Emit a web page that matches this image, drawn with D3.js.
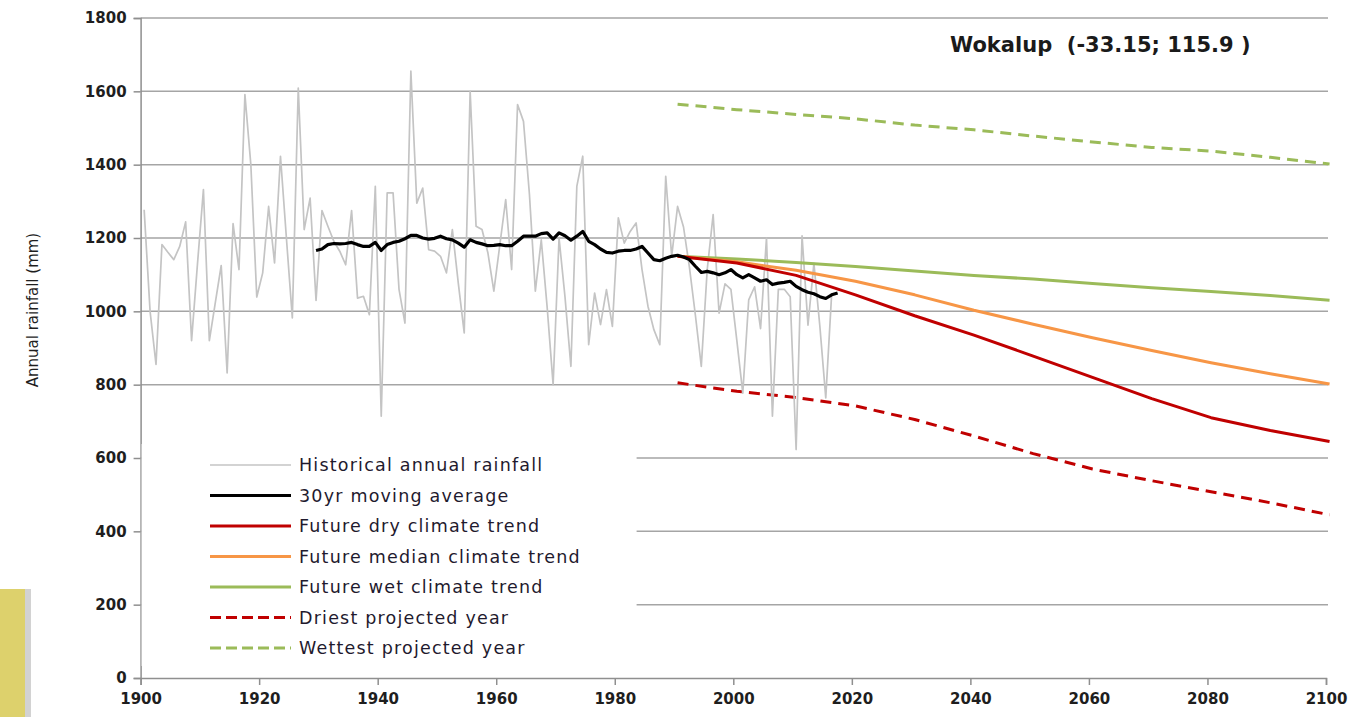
<!DOCTYPE html>
<html>
<head>
<meta charset="utf-8">
<script src="https://cdn.jsdelivr.net/npm/d3@7/dist/d3.min.js"></script>
<style>
  body { margin: 0; background: #fff; }
  svg text { font-family: "DejaVu Sans", sans-serif; }
</style>
</head>
<body>
<div id="chart"></div>
<script>
// ---- data ----
const stationTitle = "Wokalup  (-33.15; 115.9 )";
const yAxisLabel = "Annual rainfall (mm)";

// historical annual rainfall, one value per year starting 1900
const histStart = 1900;
const histRain = [
  1277, 1000, 855, 1182, 1161, 1141, 1177, 1244, 920, 1130,
  1332, 920, 1023, 1125, 832, 1239, 1114, 1591, 1400, 1039,
  1105, 1286, 1132, 1423, 1200, 982, 1609, 1223, 1309, 1030,
  1275, 1232, 1191, 1164, 1127, 1275, 1036, 1041, 991, 1341,
  714, 1323, 1323, 1060, 968, 1655, 1295, 1336, 1168, 1164,
  1150, 1105, 1223, 1077, 941, 1600, 1232, 1223, 1159, 1055,
  1180, 1305, 1114, 1564, 1518, 1320, 1055, 1195, 1010, 800,
  1200, 1040, 850, 1341, 1423, 909, 1050, 964, 1059, 959,
  1255, 1186, 1218, 1241, 1114, 1014, 950, 909, 1368, 1150,
  1286, 1230, 1120, 990, 850, 1114, 1264, 995, 1075, 1060,
  920, 777, 1031, 1067, 953, 1200, 714, 1060, 1060, 1040,
  623, 1206, 962, 1131, 960, 764, 1049
];

// 30 year moving average, one value per year starting 1929
const avgStart = 1929;
const movingAvg = [
  1166, 1170, 1182, 1185, 1184, 1185, 1188, 1182, 1177, 1177,
  1188, 1166, 1182, 1188, 1191, 1198, 1207, 1207, 1200, 1197,
  1199, 1205, 1198, 1195, 1186, 1175, 1195, 1188, 1184, 1179,
  1180, 1182, 1179, 1179, 1191, 1205, 1205, 1205, 1212, 1214,
  1197, 1214, 1206, 1194, 1205, 1218, 1191, 1182, 1170, 1161,
  1159, 1164, 1166, 1166, 1170, 1177, 1159, 1141, 1138, 1145,
  1150, 1153, 1148, 1141, 1123, 1106, 1109, 1105, 1100, 1105,
  1114, 1100, 1091, 1100, 1091, 1082, 1086, 1073, 1077, 1079,
  1082, 1068, 1059, 1052, 1048, 1040, 1035, 1045, 1050
];

// projections, read every ten years
const projYears = [1990, 2000, 2010, 2020, 2030, 2040, 2050, 2060, 2070, 2080, 2090, 2100];
const dryTrend    = [1150, 1132, 1098, 1045, 988, 935, 878, 820, 762, 710, 675, 645];
const medianTrend = [1150, 1135, 1112, 1082, 1045, 1003, 965, 928, 893, 860, 830, 802];
const wetTrend    = [1150, 1143, 1133, 1122, 1110, 1098, 1088, 1076, 1064, 1054, 1043, 1030];
const driestYear  = [805, 782, 765, 742, 705, 660, 612, 570, 538, 508, 478, 445];
const wettestYear = [1565, 1550, 1537, 1525, 1508, 1495, 1478, 1462, 1447, 1437, 1420, 1402];

const xTickValues = [1900, 1920, 1940, 1960, 1980, 2000, 2020, 2040, 2060, 2080, 2100];
const yTickValues = [0, 200, 400, 600, 800, 1000, 1200, 1400, 1600, 1800];

const legendLabels = [
  "Historical annual rainfall",
  "30yr moving average",
  "Future dry climate trend",
  "Future median climate trend",
  "Future wet climate trend",
  "Driest projected year",
  "Wettest projected year"
];

class RainfallChart {
  constructor(_config) {
    this.config = {
      parentElement: _config.parentElement,
      width: 1360,
      height: 717,
      plot: { left: 140.6, right: 1326, top: 18, bottom: 678 },
    };
    this.initVis();
  }

  initVis() {
    const vis = this;
    const p = vis.config.plot;

    vis.svg = d3.select(vis.config.parentElement)
      .append("svg")
      .attr("width", vis.config.width)
      .attr("height", vis.config.height);

    vis.svg.append("rect")
      .attr("width", vis.config.width)
      .attr("height", vis.config.height)
      .attr("fill", "#fff");

    // yellow tab bottom-left, as in the source picture
    vis.svg.append("rect")
      .attr("x", 0).attr("y", 589).attr("width", 25).attr("height", 128)
      .attr("fill", "#ddd16c");
    vis.svg.append("rect")
      .attr("x", 25).attr("y", 589).attr("width", 6).attr("height", 128)
      .attr("fill", "#d2d2d2");

    vis.x = d3.scaleLinear().domain([1900, 2100]).range([p.left, p.right]);
    vis.y = d3.scaleLinear().domain([0, 1800]).range([p.bottom, p.top]);

    // points sit a little after the year tick on this axis (mid-year dates)
    vis.xPos = (yr) => vis.x(yr + 0.6);

    vis.updateVis();
  }

  updateVis() {
    const vis = this;
    const p = vis.config.plot;

    // horizontal gridlines
    vis.svg.append("g")
      .selectAll("line")
      .data(yTickValues.filter((d) => d > 0))
      .join("line")
      .attr("x1", p.left)
      .attr("x2", p.right + 2)
      .attr("y1", (d) => vis.y(d))
      .attr("y2", (d) => vis.y(d))
      .attr("stroke", "#a5a5a5")
      .attr("stroke-width", 1.5);

    // y axis
    const yAxis = vis.svg.append("g")
      .attr("transform", `translate(${p.left},0)`)
      .call(d3.axisLeft(vis.y).tickValues(yTickValues).tickFormat(d3.format("d")).tickSize(7).tickPadding(7));
    yAxis.select(".domain").attr("stroke", "#8f8f8f").attr("stroke-width", 1.5);
    yAxis.selectAll(".tick line").attr("stroke", "#8f8f8f").attr("stroke-width", 1.5);
    yAxis.selectAll(".tick text")
      .attr("fill", "#1e1e1e")
      .style("font-size", "15px")
      .style("font-weight", "bold")
      .style("font-family", "DejaVu Sans, sans-serif");

    // x axis
    const xAxis = vis.svg.append("g")
      .attr("transform", `translate(0,${p.bottom})`)
      .call(d3.axisBottom(vis.x).tickValues(xTickValues).tickFormat(d3.format("d")).tickSize(7).tickPadding(8));
    xAxis.select(".domain").attr("stroke", "#8f8f8f").attr("stroke-width", 1.5);
    xAxis.selectAll(".tick line").attr("stroke", "#8f8f8f").attr("stroke-width", 1.5);
    xAxis.selectAll(".tick text")
      .attr("fill", "#1e1e1e")
      .style("font-size", "15px")
      .style("font-weight", "bold")
      .style("font-family", "DejaVu Sans, sans-serif");

    // axis title
    vis.svg.append("text")
      .attr("transform", "translate(38,310) rotate(-90)")
      .attr("text-anchor", "middle")
      .attr("fill", "#1e1e1e")
      .style("font-size", "15px")
      .text(yAxisLabel);

    // chart title
    vis.svg.append("text")
      .attr("x", 950)
      .attr("y", 52)
      .attr("fill", "#1a1a1a")
      .style("font-size", "21px")
      .style("font-weight", "bold")
      .style("white-space", "pre")
      .text(stationTitle);

    const line = d3.line()
      .x((d) => vis.xPos(d.year))
      .y((d) => vis.y(d.value));

    const hist = histRain.map((v, i) => ({ year: histStart + i, value: v }));
    const avg = movingAvg.map((v, i) => ({ year: avgStart + i, value: v }));
    const proj = (arr) => arr.map((v, i) => ({ year: projYears[i], value: v }));

    const series = [
      { data: proj(wettestYear), stroke: "#9bbb59", width: 3, dash: "11,7" },
      { data: proj(driestYear), stroke: "#c00000", width: 3, dash: "11,7" },
      { data: hist, stroke: "#c4c4c4", width: 1.7, dash: null },
      { data: proj(wetTrend), stroke: "#9bbb59", width: 3, dash: null },
      { data: proj(medianTrend), stroke: "#f79646", width: 3, dash: null },
      { data: proj(dryTrend), stroke: "#c00000", width: 3, dash: null },
      { data: avg, stroke: "#000000", width: 3.2, dash: null },
    ];

    vis.svg.append("g")
      .selectAll("path")
      .data(series)
      .join("path")
      .attr("d", (d) => line(d.data))
      .attr("fill", "none")
      .attr("stroke", (d) => d.stroke)
      .attr("stroke-width", (d) => d.width)
      .attr("stroke-dasharray", (d) => d.dash)
      .attr("stroke-linejoin", "round");

    // legend, white box over the gridlines
    const legendStyle = [
      { stroke: "#c4c4c4", width: 1.7, dash: null },
      { stroke: "#000000", width: 3.2, dash: null },
      { stroke: "#c00000", width: 3, dash: null },
      { stroke: "#f79646", width: 3, dash: null },
      { stroke: "#9bbb59", width: 3, dash: null },
      { stroke: "#c00000", width: 3, dash: "11,5" },
      { stroke: "#9bbb59", width: 3, dash: "11,5" },
    ];

    const legend = vis.svg.append("g");
    legend.append("rect")
      .attr("x", p.left + 1).attr("y", 444)
      .attr("width", 495).attr("height", 222)
      .attr("fill", "#fff");

    const rows = legend.selectAll("g.row")
      .data(legendLabels)
      .join("g")
      .attr("class", "row")
      .attr("transform", (d, i) => `translate(0,${465 + i * 30.5})`);

    rows.append("line")
      .attr("x1", 210).attr("x2", 291)
      .attr("stroke", (d, i) => legendStyle[i].stroke)
      .attr("stroke-width", (d, i) => legendStyle[i].width)
      .attr("stroke-dasharray", (d, i) => legendStyle[i].dash);

    rows.append("text")
      .attr("x", 299)
      .attr("dy", "0.35em")
      .attr("fill", "#1f1a2e")
      .style("font-size", "17.5px")
      .style("letter-spacing", "1.2px")
      .text((d) => d);
  }
}

new RainfallChart({ parentElement: "#chart" });
</script>
</body>
</html>
